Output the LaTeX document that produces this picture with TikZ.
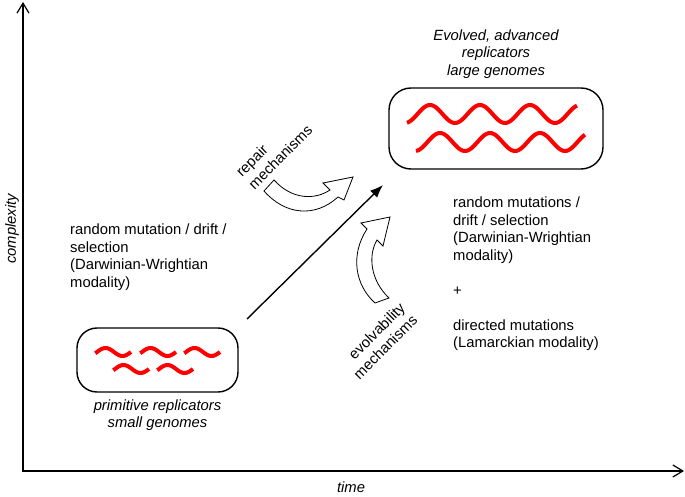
\documentclass[tikz,border=0pt]{standalone}
\usepackage{fontspec}
\setmainfont{Liberation Sans}
\usetikzlibrary{arrows.meta}
\usetikzlibrary{positioning}
\tikzset{axis/.style = {line width=1.4pt,
                        {Straight Barb[length=10pt,width=12pt,line width=1.2pt]}-{Straight Barb[length=10pt,width=12pt,line width=1.2pt]}}}
\tikzset{growth/.style = {line width=1.4pt, -{Latex[length=13pt,width=10pt]}}}
\tikzset{genome/.style = {wred, line width=4pt}}
\tikzset{cell/.style = {draw, line width=1.4pt, rounded corners=20pt}}
\tikzset{fat/.style = {draw, fill=white, line width=0.8pt}}
\tikzset{txt/.style = {inner sep=0pt, font=\fontsize{14.8}{17.5}\selectfont}}
\tikzset{italic/.style = {inner sep=0pt, font=\fontsize{14.8}{17.5}\selectfont\itshape}}
\definecolor{wred}{rgb}{1, 0, 0}
\newcommand{\wiggle}[2]{\draw [genome] plot [domain=-0.05:1, samples=30] ({#1+34*\x}, {#2-4*sin(360*\x)});}

\begin{document}
\begin{tikzpicture}[x=1pt, y=-1pt]
    \useasboundingbox (0, 0) rectangle (685, 497);

    % axes
    \coordinate (ytop) at (23, 2);
    \coordinate (origin) at (23, 471);
    \coordinate (xend) at (684, 471);
    \draw [axis] (ytop) -- (origin) -- (xend);
    \node [italic, rotate=90] (ylabel) at (12, 229) {complexity};
    \node [italic] (xlabel) at (351, 487) {time};

    % primitive replicators
    \node [cell, minimum width=161pt, minimum height=64pt] (small) at (157.5, 360) {};
    \wiggle{97}{352}
    \wiggle{142}{352}
    \wiggle{186}{352}
    \wiggle{115}{369}
    \wiggle{159}{369}
    \node [italic, align=center, below=6.5pt of small] (smalltxt) {primitive replicators\\small genomes};

    % advanced replicators
    \node [cell, minimum width=214pt, minimum height=81pt, rounded corners=22pt] (large) at (496, 128.5) {};
    \draw [genome] plot [domain=0.04:3.44, samples=120] ({405+50*\x}, {114+9*cos(360*\x)});
    \draw [genome] plot [domain=0.02:3.4, samples=120] ({415+50*\x}, {142+9*cos(360*\x)});
    \node [italic, align=center, above=9pt of large] (largetxt) {Evolved, advanced\\replicators\\large genomes};

    \coordinate (tail) at (247, 319);
    \coordinate (head) at (383, 185);
    \draw [growth] (tail) -- (head);

    \node [txt, align=left, anchor=north west] (darwin) at (70, 224)
          {random mutation / drift /\\selection\\(Darwinian-Wrightian\\modality)};
    \node [txt, align=left, anchor=north west] (lamarck) at (453, 197)
          {random mutations /\\drift / selection\\(Darwinian-Wrightian\\modality)\\[17.5pt]+\\[17.5pt]directed mutations\\(Lamarckian modality)};

    % fat arrows
    \draw [fat] (274, 180) .. controls (292, 200) and (315, 200) .. (330, 190) -- (323, 183) -- (353, 177)
                -- (344, 200) -- (338, 197) .. controls (315, 218) and (285, 215) .. (264, 191) -- cycle;
    \draw [fat] (390, 217) -- (361, 223) -- (367, 229) .. controls (350, 255) and (355, 285) .. (375, 303)
                -- (389, 298) .. controls (370, 280) and (368, 255) .. (377, 240) -- (383, 246) -- cycle;
    \node [txt, rotate=45, align=left] (repair) at (274, 151) {repair\\mechanisms};
    \node [txt, rotate=45, align=right] (evolv) at (379, 341) {evolvability\\mechanisms};
\end{tikzpicture}
\end{document}
